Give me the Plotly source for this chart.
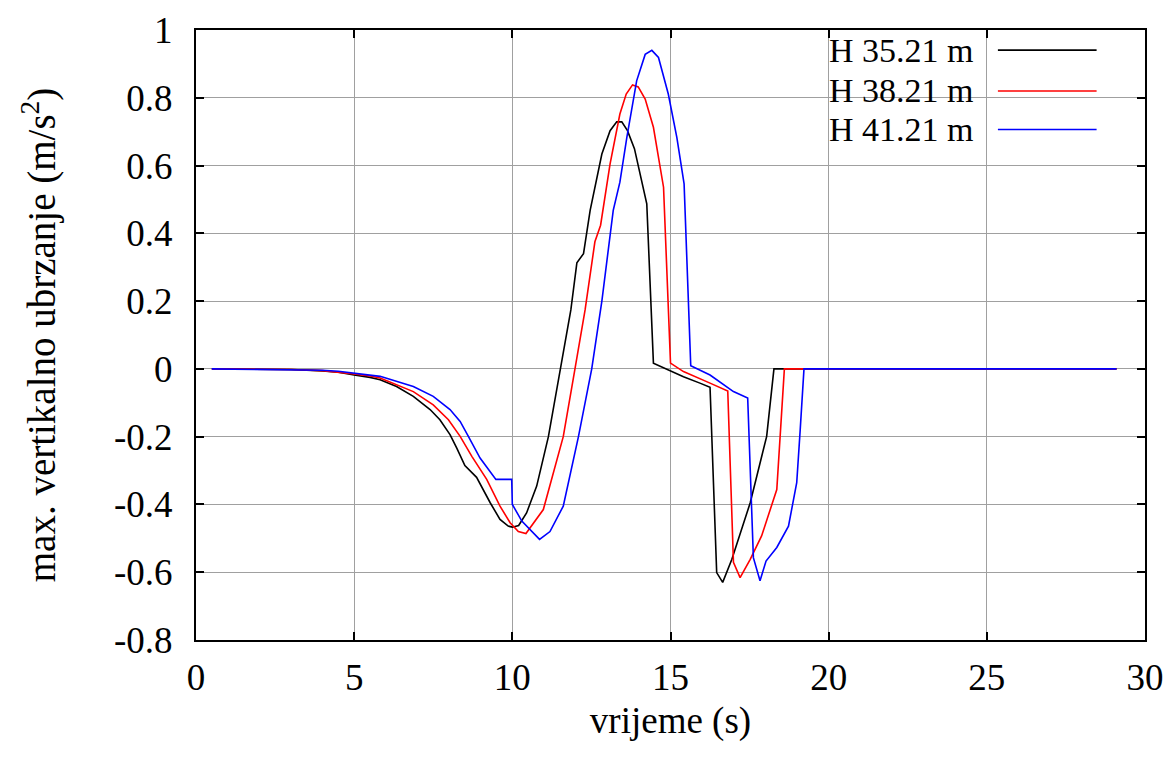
import plotly.graph_objects as go

# ---- data ----
x_h3521 = [0.5, 2, 3, 4, 4.5, 5, 5.5, 5.82, 6.34, 6.87, 7.4, 7.71, 8.03, 8.24, 8.5, 8.87, 9.3, 9.61,
           9.87, 10.0, 10.2, 10.45, 10.77, 11.14, 11.51, 11.85, 12.04, 12.25, 12.46, 12.83, 13.09,
           13.3, 13.46, 13.64, 13.86, 14.25, 14.46, 14.99, 15.41, 15.93, 16.25, 16.46, 16.65,
           16.94, 17.52, 18.04, 18.27, 29.1]
y_h3521 = [0, -0.001, -0.002, -0.006, -0.01, -0.018, -0.025, -0.032, -0.052, -0.081, -0.12, -0.15,
           -0.194, -0.233, -0.285, -0.32, -0.395, -0.444, -0.464, -0.467, -0.462, -0.425, -0.346,
           -0.2, 0, 0.174, 0.313, 0.34, 0.468, 0.634, 0.703, 0.729, 0.729, 0.703, 0.65, 0.487,
           0.017, -0.005, -0.023, -0.042, -0.054, -0.601, -0.63, -0.562, -0.395, -0.199, 0, 0]

x_h3821 = [0.5, 2, 3, 4, 4.5, 5, 5.5, 5.82, 6.87, 7.5, 7.98, 8.35, 8.72, 9.19, 9.61, 9.93, 10.19,
           10.43, 10.98, 11.61, 11.98, 12.3, 12.61, 12.79, 13.09, 13.4, 13.6, 13.8, 13.98, 14.2,
           14.46, 14.78, 15.0, 15.41, 16.25, 16.81, 16.99, 17.2, 17.52, 17.88, 18.36, 18.46,
           18.6, 29.1]
y_h3821 = [0, -0.001, -0.002, -0.005, -0.009, -0.015, -0.021, -0.027, -0.067, -0.106, -0.15,
           -0.199, -0.258, -0.326, -0.405, -0.454, -0.48, -0.486, -0.415, -0.2, 0, 0.174, 0.375,
           0.424, 0.605, 0.752, 0.811, 0.838, 0.832, 0.796, 0.713, 0.536, 0.017, -0.008, -0.042,
           -0.065, -0.571, -0.616, -0.562, -0.493, -0.356, -0.199, 0, 0]

x_h4121 = [0.5, 2, 3, 4, 4.5, 5, 5.5, 5.82, 6.87, 7.5, 8.03, 8.35, 8.61, 8.98, 9.48, 9.98, 10.0,
           10.24, 10.3, 10.86, 11.19, 11.61, 12.09, 12.51, 12.83, 13.19, 13.4, 13.62, 13.93,
           14.2, 14.41, 14.62, 14.93, 15.2, 15.43, 15.64, 16.25, 16.99, 17.44, 17.62, 17.83,
           18.02, 18.36, 18.73, 18.99, 19.1, 19.22, 29.1]
y_h4121 = [0, -0.001, -0.002, -0.004, -0.007, -0.012, -0.017, -0.022, -0.052, -0.081, -0.12,
           -0.155, -0.199, -0.263, -0.326, -0.326, -0.4, -0.439, -0.449, -0.503, -0.48, -0.405,
           -0.2, 0, 0.2, 0.468, 0.551, 0.683, 0.85, 0.928, 0.94, 0.919, 0.811, 0.683, 0.546,
           0.009, -0.018, -0.067, -0.086, -0.557, -0.625, -0.567, -0.527, -0.464, -0.336, -0.18,
           0, 0]

series_names = ["H 35.21 m", "H 38.21 m", "H 41.21 m"]
series_colors = ["#000000", "#ff0000", "#0000ff"]

x_ticks = [0, 5, 10, 15, 20, 25, 30]
x_ticklabels = ["0", "5", "10", "15", "20", "25", "30"]
y_ticks = [-0.8, -0.6, -0.4, -0.2, 0, 0.2, 0.4, 0.6, 0.8, 1]
y_ticklabels = ["-0.8", "-0.6", "-0.4", "-0.2", "0", "0.2", "0.4", "0.6", "0.8", "1"]

FONT = "Liberation Serif, Times New Roman, serif"
FS = 37
FS_KEY = 34
FS_YTITLE = 39

fig = go.Figure()
for xs, ys, name, col in zip([x_h3521, x_h3821, x_h4121], [y_h3521, y_h3821, y_h4121],
                             series_names, series_colors):
    fig.add_trace(go.Scatter(x=xs, y=ys, mode="lines", name=name,
                             line=dict(color=col, width=1.6), showlegend=False))

# gnuplot-style key: white box, right-aligned text, line sample to the right
shapes = [dict(type="rect", xref="paper", yref="paper", x0=0.6, x1=0.9715, y0=0.803, y1=1.0,
               fillcolor="white", line=dict(width=0), layer="between")]
annotations = []
key_rows = [0.967, 0.900, 0.837]
for name, col, ry in zip(series_names, series_colors, key_rows):
    annotations.append(dict(text=name, xref="paper", yref="paper", x=0.822, y=ry,
                            xanchor="right", yanchor="middle", showarrow=False,
                            font=dict(family=FONT, size=FS_KEY, color="black")))
    shapes.append(dict(type="line", xref="paper", yref="paper", x0=0.845, x1=0.949,
                       y0=ry, y1=ry, line=dict(color=col, width=1.6), layer="above"))

axis_common = dict(showline=True, mirror="allticks", linecolor="black", linewidth=2,
                   ticks="inside", ticklen=8, tickcolor="black", tickwidth=1.5,
                   showgrid=True, gridcolor="#a0a0a0", gridwidth=1, zeroline=False,
                   tickfont=dict(family=FONT, size=FS, color="black"))

# the page body has an 8px margin, so the figure is 8px smaller and margins are shifted
fig.update_layout(
    width=1168, height=754,
    margin=dict(l=188, r=20, t=22, b=122),
    paper_bgcolor="white", plot_bgcolor="white",
    xaxis=dict(range=[0, 30], tickvals=x_ticks, ticktext=x_ticklabels, ticklabelstandoff=4,
               title=dict(text="vrijeme (s)", font=dict(family=FONT, size=FS, color="black"),
                          standoff=10),
               **axis_common),
    yaxis=dict(range=[-0.8, 1], tickvals=y_ticks, ticktext=y_ticklabels, ticklabelstandoff=14,
               title=dict(text="max. vertikalno ubrzanje (m/s<sup>2</sup>)",
                          font=dict(family=FONT, size=FS_YTITLE, color="black"), standoff=46),
               automargin=False,
               **axis_common),
    shapes=shapes, annotations=annotations,
)

fig.write_html("out.html")
